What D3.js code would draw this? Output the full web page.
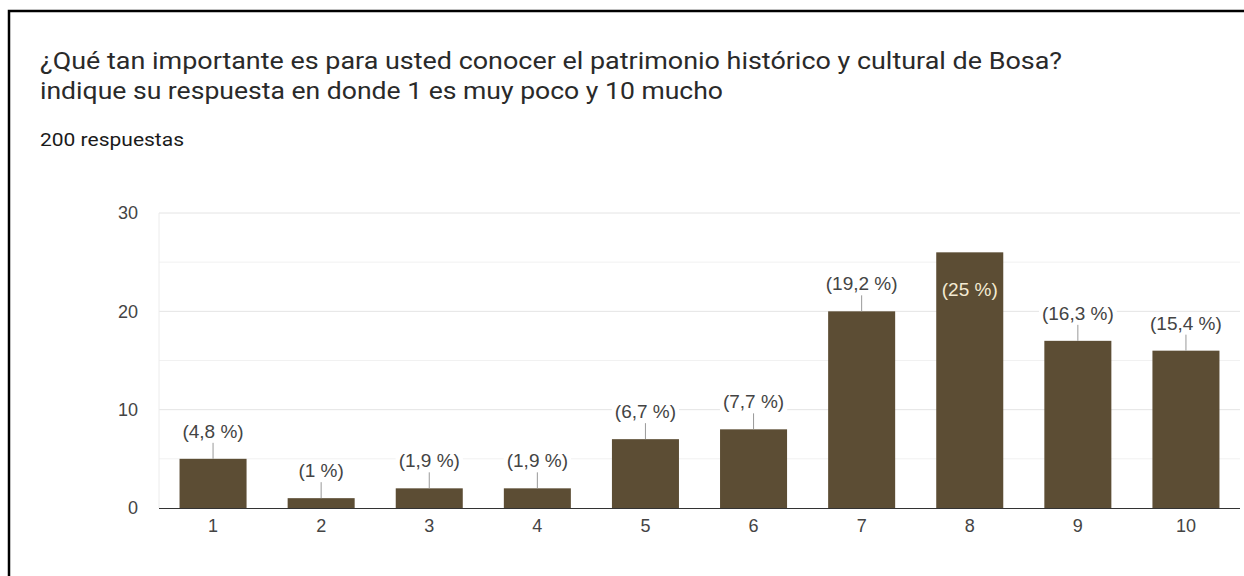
<!DOCTYPE html>
<html>
<head>
<meta charset="utf-8">
<script src="https://cdn.jsdelivr.net/npm/d3@7"></script>
<style>
html,body{margin:0;padding:0;background:#fff;}
svg{display:block;}
</style>
</head>
<body>
<svg id="chart" width="1244" height="576"></svg>
<script>
const categories = ["1","2","3","4","5","6","7","8","9","10"];
const counts = [5,1,2,2,7,8,20,26,17,16];
const percentLabels = ["(4,8 %)","(1 %)","(1,9 %)","(1,9 %)","(6,7 %)","(7,7 %)","(19,2 %)","(25 %)","(16,3 %)","(15,4 %)"];
const yTicks = [0,10,20,30];
const yMinorTicks = [5,15,25];
const titleLines = ["¿Qué tan importante es para usted conocer el patrimonio histórico y cultural de Bosa?",
                    "indique su respuesta en donde 1 es muy poco y 10 mucho"];
const subtitle = "200 respuestas";

const svg = d3.select("#chart");

// frame
svg.append("path").attr("d","M9,576 L9,11 L1244,11").attr("fill","none").attr("stroke","#000").attr("stroke-width",2.5);

// titles
const titleW = [1022, 683];
svg.selectAll("text.title").data(titleLines).enter().append("text")
  .attr("x",40).attr("y",(d,i)=>69+i*30)
  .attr("font-family","Roboto, 'Open Sans', sans-serif").attr("font-size",24)
  .attr("textLength",(d,i)=>titleW[i]).attr("lengthAdjust","spacingAndGlyphs")
  .attr("fill","#2a2a2a").text(d=>d);
svg.append("text").attr("x",40).attr("y",146)
  .attr("font-family","Roboto, 'Open Sans', sans-serif").attr("font-size",19)
  .attr("textLength",144).attr("lengthAdjust","spacingAndGlyphs")
  .attr("fill","#1a1a1a").text(subtitle);

const x = d3.scaleBand().domain(categories).range([159,1240]).paddingInner(0.38).paddingOuter(0.19);
const y = d3.scaleLinear().domain([0,30]).range([508,213]);

const g = svg.append("g");
// minor grid
g.selectAll("line.minor").data(yMinorTicks).enter().append("line")
  .attr("x1",159).attr("x2",1240).attr("y1",d=>y(d)).attr("y2",d=>y(d))
  .attr("stroke","#f1f1f1").attr("stroke-width",1);
g.selectAll("line.major").data(yTicks.filter(d=>d>0)).enter().append("line")
  .attr("x1",159).attr("x2",1240).attr("y1",d=>y(d)).attr("y2",d=>y(d))
  .attr("stroke","#e4e4e4").attr("stroke-width",1);
g.append("line").attr("x1",159).attr("x2",159).attr("y1",y(30)).attr("y2",y(0)).attr("stroke","#ececec");

// y axis
const yAxis = d3.axisLeft(y).tickValues(yTicks).tickSize(0).tickPadding(0);
const ya = svg.append("g").attr("transform","translate(138,0)").call(yAxis);
ya.select(".domain").remove();
ya.selectAll("text").attr("font-family","Arial, 'Liberation Sans', sans-serif").attr("font-size",18).attr("fill","#444");

// bars
g.selectAll("rect.bar").data(counts).enter().append("rect")
  .attr("x",(d,i)=>x(categories[i])).attr("width",x.bandwidth())
  .attr("y",d=>y(d)).attr("height",d=>y(0)-y(d)).attr("fill","#5c4d34");

// baseline
g.append("line").attr("x1",159).attr("x2",1240).attr("y1",y(0)+0.5).attr("y2",y(0)+0.5).attr("stroke","#333").attr("stroke-width",1.2);

// x axis
const xAxis = d3.axisBottom(x).tickSize(0).tickPadding(0);
const xa = svg.append("g").attr("transform","translate(0,519)").call(xAxis);
xa.select(".domain").remove();
xa.selectAll("text").attr("font-family","Arial, 'Liberation Sans', sans-serif").attr("font-size",18).attr("fill","#444");

// labels
const lab = g.selectAll("g.lab").data(counts).enter().append("g");
lab.each(function(d,i){
  const cx = x(categories[i]) + x.bandwidth()/2;
  const top = y(d);
  const sel = d3.select(this);
  const inside = top - 45 < y(30);
  if(inside){
    sel.append("text").attr("x",cx).attr("y",top+44).attr("text-anchor","middle")
      .attr("font-family","Arial, 'Liberation Sans', sans-serif").attr("font-size",19)
      .attr("fill","#f3ead2").text(percentLabels[i]);
  } else {
    const t = sel.append("text").attr("x",cx).attr("y",top-21).attr("text-anchor","middle")
      .attr("font-family","Arial, 'Liberation Sans', sans-serif").attr("font-size",19)
      .attr("fill","#444").text(percentLabels[i]);
    const bb = t.node().getBBox();
    sel.insert("rect","text").attr("x",bb.x-3).attr("y",bb.y).attr("width",bb.width+6).attr("height",bb.height).attr("fill","#fff");
    sel.append("line").attr("x1",cx).attr("x2",cx).attr("y1",top).attr("y2",top-16).attr("stroke","#999").attr("stroke-width",1);
  }
});
</script>
</body>
</html>
